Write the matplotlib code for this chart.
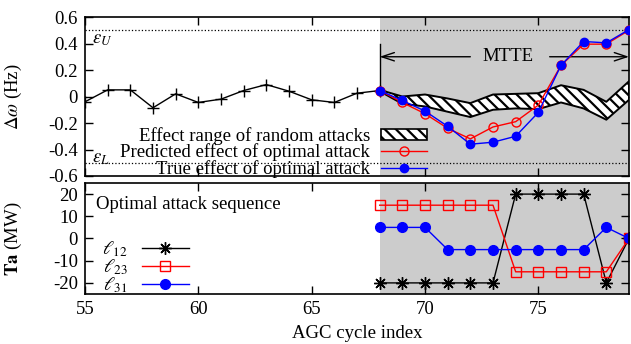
import matplotlib
matplotlib.use('Agg')
import matplotlib.pyplot as plt
from matplotlib.patches import Patch
from matplotlib.lines import Line2D
from matplotlib.ticker import FuncFormatter

plt.rcParams['font.family'] = ['Liberation Serif', 'DejaVu Serif']
plt.rcParams['mathtext.fontset'] = 'stix'
plt.rcParams['axes.unicode_minus'] = False
plt.rcParams['hatch.linewidth'] = 1.6
fs = 13.5

# frequency deviation before the attack window
cyc_pre = [55, 56, 57, 58, 59, 60, 61, 62, 63, 64, 65, 66, 67, 68]
dw_pre = [-0.04, 0.05, 0.05, -0.085, 0.02, -0.045, -0.02, 0.045, 0.09, 0.04,
          -0.025, -0.045, 0.025, 0.045]

# attack window
cyc_att = [68, 69, 70, 71, 72, 73, 74, 75, 76, 77, 78, 79]
dw_pred = [0.045, -0.045, -0.13, -0.24, -0.32, -0.23, -0.19, -0.065, 0.235, 0.395, 0.395, 0.5]
dw_true = [0.045, -0.03, -0.11, -0.225, -0.36, -0.345, -0.30, -0.12, 0.235, 0.415, 0.405, 0.505]
band_hi = [0.05, 0.0, 0.015, -0.015, -0.05, 0.015, 0.02, 0.025, 0.085, 0.05, -0.04, 0.115]
band_lo = [0.04, -0.055, -0.075, -0.115, -0.155, -0.1, -0.09, -0.095, -0.045, -0.09, -0.175, -0.025]

# optimal attack sequence (MW)
ta12 = [-20, -20, -20, -20, -20, -20, 20, 20, 20, 20, -20, 0]
ta23 = [15, 15, 15, 15, 15, 15, -15, -15, -15, -15, -15, 0]
ta31 = [5, 5, 5, -5, -5, -5, -5, -5, -5, -5, 5, 0]

eps = 0.5
t_start, t_end = 68, 79
grey = '#cccccc'

fig = plt.figure(figsize=(6.31, 3.44), dpi=100)
ax1 = fig.add_axes([85 / 631, 1 - 176 / 344, 544 / 631, 159 / 344])
ax2 = fig.add_axes([85 / 631, 1 - 294 / 344, 544 / 631, 111 / 344])

for ax in (ax1, ax2):
    ax.axvspan(t_start, t_end, color=grey, lw=0, zorder=0)
    ax.set_xlim(55, 79)
    ax.set_xticks([55, 60, 65, 70, 75])
    ax.tick_params(direction='in', top=True, right=True, length=6, width=1,
                   labelsize=fs, pad=5)
    for s in ax.spines.values():
        s.set_linewidth(1.2)

# top panel
ax1.set_ylim(-0.6, 0.6)
ax1.set_yticks([-0.6, -0.4, -0.2, 0, 0.2, 0.4, 0.6])
ax1.yaxis.set_major_formatter(FuncFormatter(lambda v, p: '0' if abs(v) < 1e-9 else '%.1f' % v))
ax1.tick_params(labelbottom=False)
ax1.axhline(eps, color='k', ls=':', lw=0.9)
ax1.axhline(-eps, color='k', ls=':', lw=0.9)
ax1.text(55.3, 0.43, r'$\epsilon_U$', fontsize=fs, va='center')
ax1.text(55.3, -0.47, r'$\epsilon_L$', fontsize=fs, va='center')

ax1.plot(cyc_pre, dw_pre, color='k', lw=1, marker='+', ms=9, mew=1, zorder=3)
ax1.fill_between(cyc_att, band_lo, band_hi, facecolor='white', edgecolor='k',
                 hatch='\\\\\\', lw=1.4, zorder=2)
ax1.plot(cyc_att, dw_pred, color='red', lw=1, marker='o', ms=6.5, mfc='none', mew=1, zorder=4)
ax1.plot(cyc_att, dw_true, color='blue', lw=1, marker='o', ms=6, zorder=4)

# MTTE arrow
ax1.plot([t_start, t_start], [0.05, 0.4], color='k', lw=1, zorder=3)
arrow = dict(arrowstyle='->, head_length=0.9, head_width=0.3', lw=1, color='k',
             shrinkA=0, shrinkB=0)
ax1.annotate('', xy=(t_start, 0.3), xytext=(72.0, 0.3), arrowprops=arrow)
ax1.annotate('', xy=(t_end, 0.3), xytext=(75.5, 0.3), arrowprops=arrow)
ax1.text(73.65, 0.3, 'MTTE', fontsize=fs, ha='center', va='center')

h1 = [Patch(facecolor='white', edgecolor='k', hatch='\\\\\\', lw=1.2),
      Line2D([], [], color='red', lw=1, marker='o', ms=6.5, mfc='none'),
      Line2D([], [], color='blue', lw=1, marker='o', ms=6)]
l1 = ['Effect range of random attacks', 'Predicted effect of optimal attack',
      'True effect of optimal attack']
ax1.legend(h1, l1, loc='lower right', bbox_to_anchor=(70.11, -0.615),
           bbox_transform=ax1.transData, frameon=False, markerfirst=False,
           fontsize=fs, borderpad=0, borderaxespad=0, handlelength=2.5,
           handleheight=0.55, handletextpad=0.55, labelspacing=-0.07, numpoints=1)
ax1.set_ylabel(r'$\Delta\omega$ (Hz)', fontsize=fs)
ax1.yaxis.set_label_coords(-0.112, 0.5)

# bottom panel
ax2.set_ylim(-25, 25)
ax2.set_yticks([-20, -10, 0, 10, 20])
ax2.plot(cyc_att, ta12, color='k', lw=1, marker=(8, 2, 0), ms=9, mew=1, label=r'$\ell_{12}$')
ax2.plot(cyc_att, ta23, color='red', lw=1, marker='s', ms=7.5, mfc='none', mew=1, label=r'$\ell_{23}$')
ax2.plot(cyc_att, ta31, color='blue', lw=1, marker='o', ms=7, label=r'$\ell_{31}$')
ax2.text(55.48, 15.4, 'Optimal attack sequence', fontsize=fs, va='center')
ax2.legend(loc='lower right', bbox_to_anchor=(59.58, -25.6), bbox_transform=ax2.transData,
           frameon=False, markerfirst=False, fontsize=fs, borderpad=0, borderaxespad=0,
           handlelength=2.5, handletextpad=0.75, labelspacing=-0.08, numpoints=1)
ax2.set_ylabel(r'$\mathbf{Ta}$ (MW)', fontsize=fs)
ax2.yaxis.set_label_coords(-0.112, 0.5)
ax2.set_xlabel('AGC cycle index', fontsize=fs, labelpad=5)

fig.savefig('out.png', dpi=100)
